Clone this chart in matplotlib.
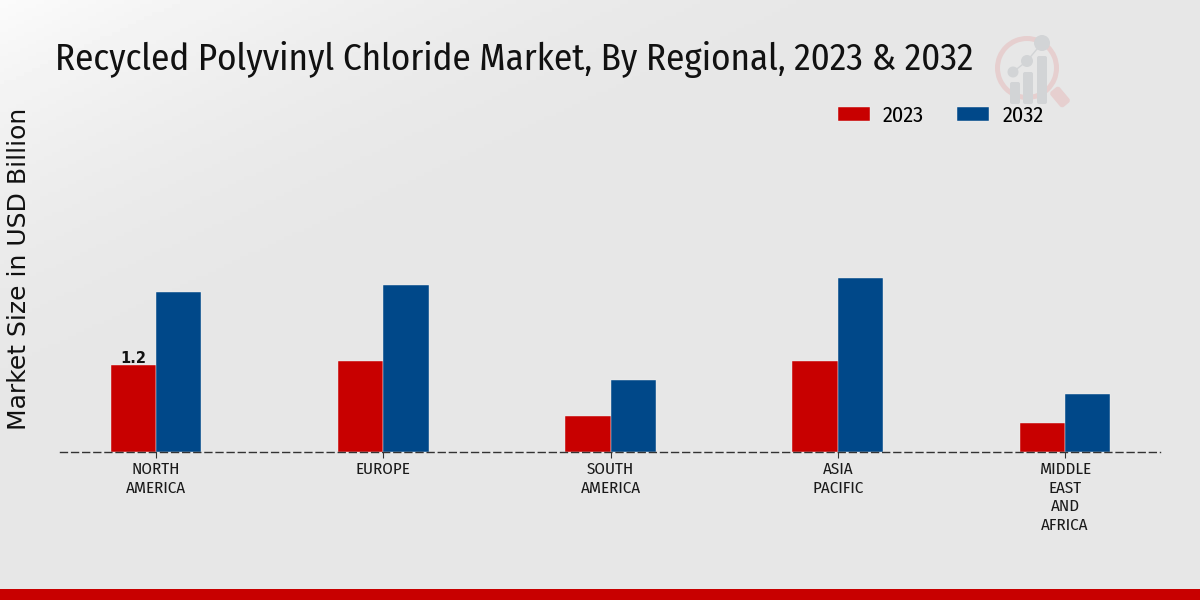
import numpy as np
import matplotlib
matplotlib.use('Agg')
import matplotlib.pyplot as plt
from matplotlib import font_manager as fm
from matplotlib.patches import Circle, Wedge, FancyBboxPatch, Rectangle
from matplotlib.transforms import Affine2D

regions = ['NORTH\nAMERICA', 'EUROPE', 'SOUTH\nAMERICA', 'ASIA\nPACIFIC', 'MIDDLE\nEAST\nAND\nAFRICA']
values_2023 = [1.2, 1.25, 0.49, 1.25, 0.39]
values_2032 = [2.2, 2.29, 0.99, 2.4, 0.79]

RED = '#c80000'
BLUE = '#004889'
installed = {f.name for f in fm.fontManager.ttflist}
NARROW = next((n for n in ['Noto Sans Condensed', 'Fira Sans Condensed', 'Roboto Condensed',
                           'Cabin Condensed', 'Barlow Condensed', 'Open Sans Condensed', 'Roboto']
               if n in installed), 'DejaVu Sans')

fig = plt.figure(figsize=(12, 6), dpi=100)

# background gradient, lighter in the top left corner
bg = fig.add_axes([0, 0, 1, 1], zorder=0)
yy, xx = np.mgrid[0:1:150j, 0:1:300j]
shade = 0.903 + 0.08 * np.clip(1 - (xx * 1.2 + yy * 1.3), 0, 1) ** 2
bg.imshow(shade, cmap='gray', vmin=0, vmax=1, extent=[0, 1200, 600, 0], aspect='auto')
bg.set_xlim(0, 1200)
bg.set_ylim(600, 0)
bg.axis('off')
bg.add_patch(Rectangle((0, 589), 1200, 11, color=RED, lw=0))

# faded logo
LOGO_RED = '#e6cfcf'
LOGO_GREY = '#d2d4d6'
bg.add_patch(Wedge((1027, 68), 32, 0, 360, width=5, color=LOGO_RED, lw=0))
handle = Affine2D().rotate_deg_around(1060, 97, 50) + bg.transData
bg.add_patch(FancyBboxPatch((1053, 94), 14, 6, boxstyle='round,pad=3', color=LOGO_RED, lw=0, transform=handle))
for x, top in [(1015, 84), (1028, 74), (1042, 58)]:
    bg.add_patch(FancyBboxPatch((x - 3, top), 6, 102 - top, boxstyle='round,pad=2', color=LOGO_GREY, lw=0))
for x, y, r in [(1013, 72, 5.5), (1027, 61, 6), (1042, 43, 8)]:
    bg.add_patch(Circle((x, y), r, color=LOGO_GREY, lw=0))
bg.plot([1013, 1027, 1042], [72, 61, 43], color=LOGO_GREY, lw=1)

ax = fig.add_axes([0.05, 1 - 451.5 / 600, 0.9167, 351.5 / 600], zorder=1)
ax.patch.set_alpha(0)
pos = np.arange(len(regions))
width = 0.2
ax.bar(pos - width / 2, values_2023, width, color=RED, edgecolor='#f2f2f2', linewidth=0.3, label='2023')
ax.bar(pos + width / 2, values_2032, width, color=BLUE, edgecolor='#f2f2f2', linewidth=0.3, label='2032')
ax.set_xlim(-0.4224, 4.418)
ax.set_ylim(0, 351.5 / 72.5)
ax.set_xticks(pos, regions, fontfamily=NARROW, fontsize=12.2, fontweight=400, linespacing=1.22)
ax.set_yticks([])
ax.tick_params(axis='x', length=4, width=0.8, color='#333333', pad=3, labelcolor='#1a1a1a')
for s in ['top', 'left', 'right']:
    ax.spines[s].set_visible(False)
ax.spines['bottom'].set_linestyle((0, (5, 3)))
ax.spines['bottom'].set_color('#333333')
ax.spines['bottom'].set_linewidth(1)

ax.text(pos[0] - width / 2, values_2023[0] - 0.02, '1.2', ha='center', va='bottom',
        fontsize=10.5, fontweight='bold', color='#111111')

fig.text(55 / 1200, 1 - 60 / 600, 'Recycled Polyvinyl Chloride Market, By Regional, 2023 & 2032',
         fontfamily=NARROW, fontsize=26.6, fontweight=400, va='center', ha='left', color='#111111', zorder=3)
fig.text(19 / 1200, 1 - 269 / 600, 'Market Size in USD Billion', rotation=90, fontsize=18,
         va='center', ha='center', color='#111111', zorder=3)

ax.legend(loc='center left', bbox_to_anchor=(778 / 1100, (451.5 - 115.5) / 351.5), ncol=2,
          frameon=False, prop={'family': NARROW, 'size': 16, 'weight': 400}, handlelength=1.44, handleheight=0.63,
          columnspacing=1.49, handletextpad=0.585, borderaxespad=0, borderpad=0)

fig.savefig('out.png', dpi=100)
